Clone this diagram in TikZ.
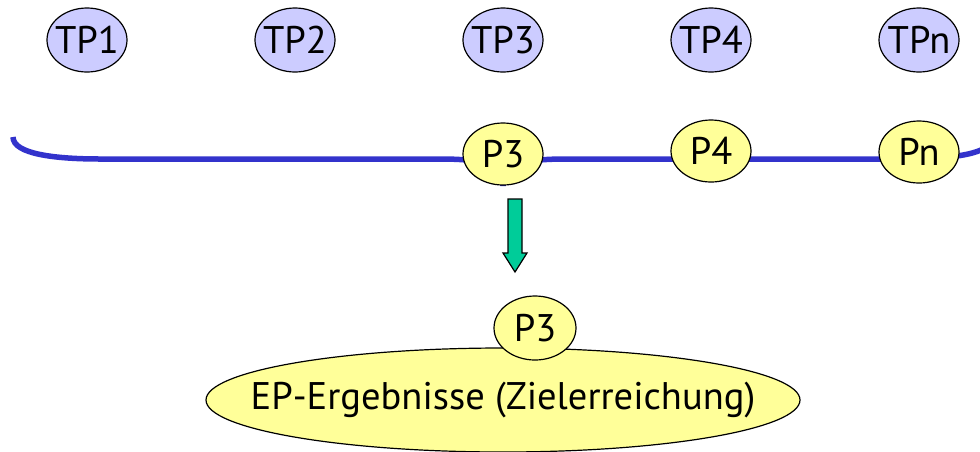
\documentclass[tikz,border=0pt]{standalone}
\usepackage{fontspec}
\setmainfont{PT Sans}
\usepackage{tikz}
\usetikzlibrary{shapes.geometric, positioning}
\definecolor{tpblue}{RGB}{204,204,255}
\definecolor{pyellow}{RGB}{255,255,153}
\definecolor{braceblue}{RGB}{51,51,204}
\definecolor{arrowgreen}{RGB}{0,204,153}
\tikzset{>=latex}
\tikzset{font=\fontsize{38.5}{44}\selectfont}
\tikzset{
  tpnode/.style={ellipse, draw=black, line width=1.2pt, fill=tpblue,
    inner sep=0pt, minimum width=80pt, minimum height=64pt, label={center:#1}},
  pnode/.style={ellipse, draw=black, line width=1.2pt, fill=pyellow,
    inner sep=0pt, minimum width=80pt, minimum height=62pt, label={center:#1}},
  resnode/.style={ellipse, draw=black, line width=1.2pt, fill=pyellow,
    inner sep=0pt, minimum width=594pt, minimum height=104pt, label={center:#1}},
  blockarrow/.style={draw=black, line width=1.2pt, fill=arrowgreen, line join=miter},
}

\begin{document}
\begin{tikzpicture}[x=1pt, y=-1pt]
  \clip (0, 0) rectangle (980, 451); %
  % sub-projects in the top row
  \node[tpnode=TP1] (tp1) at (87, 40) {}; %
  \node[tpnode=TP2] (tp2) at (295, 40) {}; %
  \node[tpnode=TP3] (tp3) at (503, 40) {}; %
  \node[tpnode=TP4] (tp4) at (711, 40) {}; %
  \node[tpnode=TPn] (tpn) at (919, 40) {}; %
  % brace collecting the projects
  \draw[braceblue, line width=5.5pt] (13, 137) .. controls (13, 154) and (55, 159) .. (100, 159)
    -- (440, 159) .. controls (488, 159) and (503, 166) .. (503, 186)
    .. controls (503, 166) and (518, 159) .. (566, 159)
    -- (906, 159) .. controls (951, 159) and (993, 154) .. (993, 137); %
  \node[pnode=P3] (p3) at (503, 154) {}; %
  \node[pnode=P4] (p4) at (711, 151) {}; %
  \node[pnode=Pn] (pn) at (919, 152) {}; %
  % block arrow down to the results
  \coordinate (arrtop) at (515, 199); %
  \draw[blockarrow] (arrtop) ++(-7, 0) -- ++(14, 0) -- ++(0, 54) -- ++(5, 0)
    -- ++(-12, 19) -- ++(-12, -19) -- ++(5, 0) -- cycle; %
  \node[resnode={EP-Ergebnisse (Zielerreichung)}] (res) at (503, 400) {}; %
  \node[pnode=P3, minimum width=82pt, minimum height=64pt] (p3res) at (535, 328) {}; %
\end{tikzpicture}
\end{document}
